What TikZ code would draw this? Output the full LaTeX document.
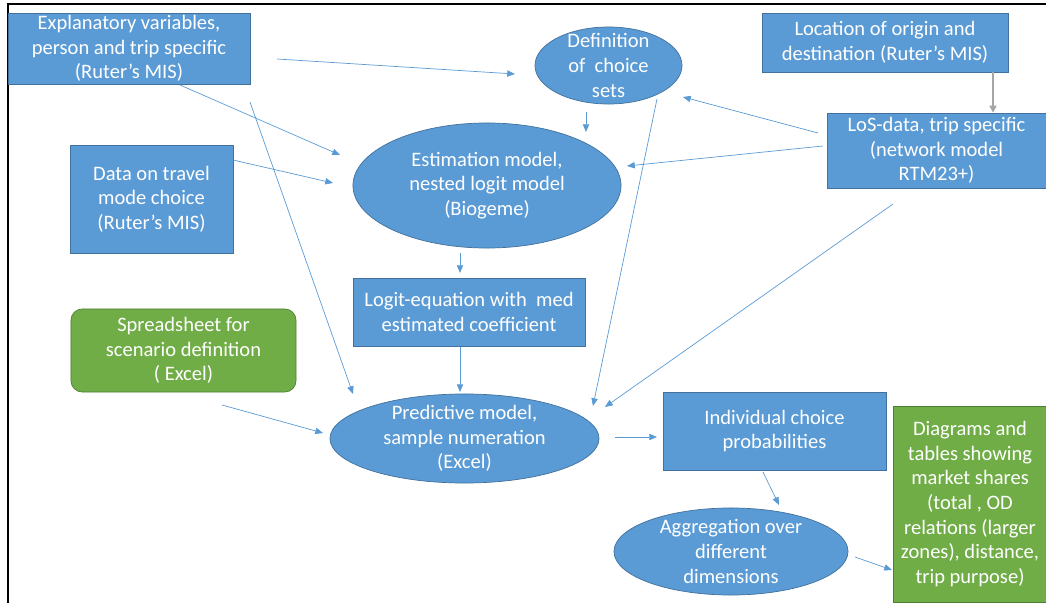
\documentclass[tikz,border=0pt]{standalone}
\usepackage{fontspec}
\setmainfont{Carlito}
\usepackage{tikz}
\usetikzlibrary{arrows.meta,shapes.geometric,positioning}
\definecolor{boxblue}{HTML}{5B9BD5}
\definecolor{edgeblue}{HTML}{41719C}
\definecolor{boxgreen}{HTML}{70AD47}
\definecolor{edgegreen}{HTML}{507E32}
\definecolor{lineblue}{HTML}{5B9BD5}
\definecolor{linegray}{HTML}{A5A5A5}
\tikzset{
  bbox/.style={rectangle, fill=boxblue, draw=edgeblue, line width=0.5pt, text=white,
    align=center, inner sep=0pt, font=\fontsize{14.6}{17.5}\selectfont},
  gbox/.style={bbox, fill=boxgreen, draw=edgegreen},
  bell/.style={bbox, ellipse, inner sep=-14pt},
  arr/.style={draw=lineblue, line width=0.5pt, -{Triangle[length=5.5pt,width=4.5pt]}},
  garr/.style={draw=linegray, line width=1.4pt, -{Triangle[length=5pt,width=5pt]}}
}

\begin{document}
\begin{tikzpicture}[x=0.025cm,y=-0.025cm]
\useasboundingbox (0,0) rectangle (1046,603);
\draw[line width=1.6pt] (8,603) -- (8,4) -- (1046,4);
\node[bbox, minimum width=6.05cm, minimum height=1.775cm] (expl) at (129,48.5) {Explanatory variables,\\ person and trip specific\\ (Ruter’s MIS)};
\node[bell, minimum width=3.675cm, minimum height=1.925cm] (defn) at (608.5,65.5) {Definition\\ of~ choice\\ sets};
\node[bbox, minimum width=6.15cm, minimum height=1.475cm] (loc) at (885,42.5) {Location of origin and\\ destination (Ruter’s MIS)};
\node[bbox, minimum width=5.475cm, minimum height=1.875cm] (los) at (936.5,150.5) {LoS-data, trip specific\\ (network model\\ RTM23+)};
\node[bbox, minimum width=4.075cm, minimum height=2.7cm] (data) at (151.5,199) {Data on travel\\ mode choice\\ (Ruter’s MIS)};
\node[bell, minimum width=6.7cm, minimum height=3.125cm] (estim) at (487,185.5) {Estimation model,\\ nested logit model\\ (Biogeme)};
\node[bbox, minimum width=5.8cm, minimum height=1.7cm] (logit) at (469,312) {Logit-equation with~ med\\ estimated coefficient};
\node[gbox, rounded corners=8pt, minimum width=5.625cm, minimum height=2.075cm] (spread) at (183.5,350.5) {Spreadsheet for\\ scenario definition\\ ( Excel)};
\node[bell, minimum width=6.725cm, minimum height=2.225cm] (pred) at (464.5,438.5) {Predictive model,\\ sample numeration\\ (Excel)};
\node[bbox, minimum width=5.575cm, minimum height=1.95cm] (indiv) at (774.5,431) {Individual choice\\ probabilities};
\node[bell, minimum width=5.85cm, minimum height=2.175cm] (aggr) at (731,551.5) {Aggregation over\\ different\\ dimensions};
\node[gbox, minimum width=3.85cm, minimum height=4.9cm] (diag) at (970,504) {Diagrams and\\ tables showing\\ market shares\\ (total , OD\\ relations (larger\\ zones), distance,\\ trip purpose)};
% loose arrow ends
\coordinate (s1) at (277,59);  \coordinate (t1) at (515,74);  % expl-defn
\coordinate (s2) at (180,85);  \coordinate (t2) at (340,155); % expl-estim
\coordinate (s3) at (250,102); \coordinate (t3) at (353,394); % expl-pred
\coordinate (s4) at (233,160); \coordinate (t4) at (333,183); % data-estim
\coordinate (s5) at (586,112); \coordinate (t5) at (586,132); % defn-estim
\coordinate (s6) at (657,99);  \coordinate (t6) at (593,406); % defn-pred
\coordinate (s7) at (818,133); \coordinate (t7) at (683,97);  % los-defn
\coordinate (s8) at (823,146); \coordinate (t8) at (627,166); % los-estim
\coordinate (s9) at (893,204); \coordinate (t9) at (605,407); % los-pred
\coordinate (s10) at (460,253); \coordinate (t10) at (460,273); % estim-logit
\coordinate (s11) at (460,347); \coordinate (t11) at (460,392); % logit-pred
\coordinate (s12) at (222,405); \coordinate (t12) at (323,433); % spread-pred
\coordinate (s13) at (615,437); \coordinate (t13) at (657,437); % pred-indiv
\coordinate (s14) at (763,472); \coordinate (t14) at (779,505); % indiv-aggr
\coordinate (s15) at (855,557); \coordinate (t15) at (892,570); % aggr-diag
\foreach \i in {1,...,15}
  \draw[arr] (s\i) -- (t\i);
\draw[garr] (loc.south -| 993,0) -- (los.north -| 993,0);
\end{tikzpicture}
\end{document}
